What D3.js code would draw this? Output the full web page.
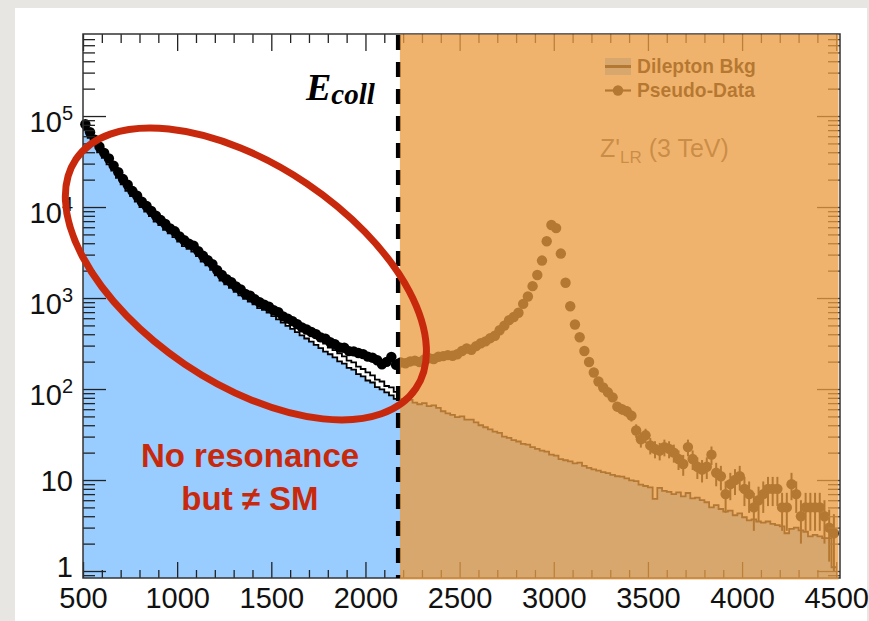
<!DOCTYPE html>
<html>
<head>
<meta charset="utf-8">
<script src="https://cdn.jsdelivr.net/npm/d3@7"></script>
<style>
  html, body { margin: 0; padding: 0; background: #e8e6e3; }
  svg { display: block; }
</style>
</head>
<body>
<svg id="chart" width="869" height="621"></svg>
<script>
// ---- Binning (GeV) ----
const binWidth = 25;
const massMin = 500;
const eCollCut = 2175;            // collider energy reach
const modelStart = 1500;          // start of the model line below the cut

// ---- Pseudo-data, events per 25 GeV bin ----
const dataLeft = [
  81240, 66350, 54870, 46020, 39410, 34150, 28520, 24180, 20290, 17560,
  14980, 13310, 11420, 10260, 9050, 8010, 7190, 6520, 5830, 5410,
  4760, 4310, 3950, 3760, 3280, 2910, 2610, 2360, 2020, 1790,
  1610, 1490, 1340, 1240, 1110, 1060, 968, 899, 846, 801,
  736, 697, 628, 594, 558, 517, 476, 451, 423, 401,
  369, 358, 328, 311, 286, 284, 261, 259, 249, 242,
  227, 221, 207, 187, 199, 225, 184
];
const dataRight = [
  196, 192, 201, 205, 198, 211, 218, 214, 226, 230,
  236, 232, 241, 262, 279, 270, 296, 318, 334, 362,
  385, 442, 497, 571, 618, 689, 862, 1040, 1350, 1790,
  2580, 4210, 6350, 5870, 3080, 1470, 812, 512, 371, 262,
  198, 152, 121, 104, 92, 81, 64, 60, 57, 51,
  35, 28, 31, 24, 22, 21, 23, 22, 20, 17,
  15, 23, 17, 14, 13, 14, 19, 12, 11, 7,
  9, 10, 11, 8, 7, 5, 6, 7, 8, 8,
  8, 5, 5, 9, 7, 4, 5, 5, 5, 5,
  4, 3, 2.6
];

// ---- Dilepton background, events per 25 GeV bin ----
const bkgLeft = [
  70800, 57500, 47900, 39800, 34700, 29500, 25100, 20900, 17800, 15100,
  13200, 11500, 10000, 8910, 7940, 6920, 6310, 5620, 5130, 4680,
  4170, 3720, 3470, 3240, 2880, 2510, 2290, 2040, 1780, 1550,
  1410, 1290, 1170, 1070, 977, 912, 851, 776, 741, 692,
  631, 582, 537, 495, 457, 422, 389, 359, 331, 305,
  282, 258, 241, 223, 201, 190, 171, 163, 146, 138,
  124, 118, 105, 99, 92, 85, 78
];
const bkgRight = [
  78, 74, 76, 71, 68, 70, 65, 66, 62, 57,
  54, 52, 49, 50, 46, 46, 43, 40, 38, 36,
  34, 33, 30, 29, 27.5, 26.5, 25, 24.5, 23, 22,
  21, 20.5, 19, 18.5, 17, 16.5, 16, 15.2, 15.5, 14.3,
  13.6, 13.1, 12.7, 12.2, 11.9, 11.4, 11.0, 10.9, 10.4, 9.9,
  9.7, 8.9, 8.6, 8.3, 6.2, 8.2, 7.6, 7.4, 7.0, 7.3,
  6.6, 7.2, 6.3, 6.4, 6.0, 5.7, 5.0, 5.3, 4.8, 4.5,
  4.6, 4.1, 4.3, 3.9, 3.6, 3.7, 3.5, 3.4, 3.5, 3.3,
  3.2, 3.1, 2.6, 2.9, 3.0, 2.8, 2.7, 2.4, 2.5, 2.4,
  2.3, 2.3, 1.1
];

// ---- Model expectation below the cut (1500-2175 GeV) ----
const modelLeft = [
  757, 705, 640, 598, 545, 510, 462, 433, 395, 370,
  336, 315, 286, 268, 247, 228, 205, 196, 176, 166,
  152, 141, 127, 121, 108, 104, 93
];

// ---- Axis ticks ----
const xTickValues = [500, 1000, 1500, 2000, 2500, 3000, 3500, 4000, 4500];
const xTickLabels = ["500", "1000", "1500", "2000", "2500", "3000", "3500", "4000", "4500"];
const yTickValues = [1, 10, 100, 1000, 10000, 100000];
const yTickLabels = [["1", ""], ["10", ""], ["10", "2"], ["10", "3"], ["10", "4"], ["10", "5"]];

// ---- Text ----
const legendItems = ["Dilepton Bkg", "Pseudo-Data"];
const signalLabel = ["Z'", "LR", " (3 TeV)"];
const noteLines = ["No resonance", "but \u2260 SM"];

// ---------------------------------------------------------------
const svg = d3.select("#chart");
const plot = { left: 83, right: 840, top: 34, bottom: 578 };

const x = d3.scaleLinear().domain([500, 4520]).range([plot.left, plot.right]);
const y = d3.scaleLog().domain([0.838, 7.97e5]).range([plot.bottom, plot.top]);

const sans = "'Liberation Sans', Arial, Helvetica, sans-serif";
const serif = "'Liberation Serif', 'Times New Roman', serif";
const red = "#c8290c";
const markerR = 5.2;

// card
svg.append("rect").attr("x", 15).attr("y", 8).attr("width", 852).attr("height", 640).attr("fill", "#ffffff");

// assemble histograms
const data = dataLeft.concat(dataRight).map((v, i) => ({ m: massMin + (i + 0.5) * binWidth, v }));
const bkg = bkgLeft.concat(bkgRight).map((v, i) => ({ lo: massMin + i * binWidth, v }));
const model = modelLeft.map((v, i) => ({ lo: modelStart + i * binWidth, v }));

function stepPoints(bins) {
  const pts = bins.map(b => [b.lo, b.v]);
  const last = bins[bins.length - 1];
  pts.push([last.lo + binWidth, last.v]);
  return pts;
}

// background histogram: filled
const bkgPts = stepPoints(bkg);
const area = d3.area()
  .curve(d3.curveStepAfter)
  .x(d => x(d[0]))
  .y0(plot.bottom)
  .y1(d => y(d[1]));
svg.append("path").datum(bkgPts).attr("d", area).attr("fill", "#99ccff");

const stepLine = d3.line().curve(d3.curveStepAfter).x(d => x(d[0])).y(d => y(d[1]));
svg.append("path").datum(bkgPts).attr("d", stepLine)
  .attr("fill", "none").attr("stroke", "#000").attr("stroke-width", 1.8);

// model line below the cut
svg.append("path").datum(stepPoints(model)).attr("d", stepLine)
  .attr("fill", "none").attr("stroke", "#000").attr("stroke-width", 1.8);

// pseudo-data with Poisson error bars
const gData = svg.append("g");
gData.selectAll("line").data(data).enter().append("line")
  .attr("x1", d => x(d.m)).attr("x2", d => x(d.m))
  .attr("y1", d => y(d.v + Math.sqrt(d.v)))
  .attr("y2", d => y(Math.max(d.v - Math.sqrt(d.v), 0.85)))
  .attr("stroke", "#000").attr("stroke-width", 2);
gData.selectAll("circle").data(data).enter().append("circle")
  .attr("cx", d => x(d.m)).attr("cy", d => y(d.v)).attr("r", markerR)
  .attr("fill", "#000");

// ---- axes (ticks point inward on all four sides) ----
const xMinor = d3.range(500, 4501, 100).filter(v => v % 500 !== 0);
const yMinor = [];
for (let e = -1; e <= 5; e++) {
  for (let k = 2; k <= 9; k++) {
    const v = k * Math.pow(10, e);
    if (v >= y.domain()[0] && v <= y.domain()[1]) yMinor.push(v);
  }
}

function styleAxis(g) {
  g.select(".domain").remove();
  g.selectAll(".tick line").attr("stroke", "#222").attr("stroke-width", 1.3);
}

svg.append("g").attr("transform", `translate(0,${plot.bottom})`)
  .call(d3.axisBottom(x).tickValues(xTickValues).tickSize(-16).tickPadding(9)
    .tickFormat((d, i) => xTickLabels[i]))
  .call(styleAxis)
  .call(g => g.selectAll("text").attr("font-family", sans).attr("font-size", 29).attr("fill", "#111"));
svg.append("g").attr("transform", `translate(0,${plot.bottom})`)
  .call(d3.axisBottom(x).tickValues(xMinor).tickSize(-8).tickFormat(""))
  .call(styleAxis);
svg.append("g").attr("transform", `translate(0,${plot.top})`)
  .call(d3.axisTop(x).tickValues(xTickValues).tickSize(-17).tickFormat(""))
  .call(styleAxis);
svg.append("g").attr("transform", `translate(0,${plot.top})`)
  .call(d3.axisTop(x).tickValues(xMinor).tickSize(-9).tickFormat(""))
  .call(styleAxis);

svg.append("g").attr("transform", `translate(${plot.left},0)`)
  .call(d3.axisLeft(y).tickValues(yTickValues).tickSize(-23).tickFormat(""))
  .call(styleAxis);
svg.append("g").attr("transform", `translate(${plot.left},0)`)
  .call(d3.axisLeft(y).tickValues(yMinor).tickSize(-12).tickFormat(""))
  .call(styleAxis);
svg.append("g").attr("transform", `translate(${plot.right},0)`)
  .call(d3.axisRight(y).tickValues(yTickValues).tickSize(-23).tickFormat(""))
  .call(styleAxis);
svg.append("g").attr("transform", `translate(${plot.right},0)`)
  .call(d3.axisRight(y).tickValues(yMinor).tickSize(-12).tickFormat(""))
  .call(styleAxis);

// frame
svg.append("rect")
  .attr("x", plot.left).attr("y", plot.top)
  .attr("width", plot.right - plot.left).attr("height", plot.bottom - plot.top)
  .attr("fill", "none").attr("stroke", "#333").attr("stroke-width", 1.5);

// y tick labels with exponents
const yLab = svg.append("g").attr("font-family", sans).attr("fill", "#111");
yTickValues.forEach((v, i) => {
  const [base, exp] = yTickLabels[i];
  const t = yLab.append("text").attr("text-anchor", "end").attr("x", 73)
    .attr("y", Math.min(y(v) + (exp ? 15.5 : 10.5), plot.bottom - 1)).attr("font-size", 29);
  t.append("tspan").text(base);
  if (exp) t.append("tspan").attr("font-size", 20).attr("dy", -12).text(exp);
});

// legend
const lg = svg.append("g").attr("font-family", sans).attr("font-weight", "bold").attr("font-size", 19.3);
lg.append("rect").attr("x", 605).attr("y", 58).attr("width", 26).attr("height", 17).attr("fill", "#99ccff");
lg.append("line").attr("x1", 605).attr("x2", 631).attr("y1", 66.5).attr("y2", 66.5)
  .attr("stroke", "#000").attr("stroke-width", 3);
lg.append("text").attr("x", 637).attr("y", 73).attr("fill", "#000").text(legendItems[0]);
lg.append("line").attr("x1", 605).attr("x2", 631).attr("y1", 90.5).attr("y2", 90.5)
  .attr("stroke", "#000").attr("stroke-width", 2.2);
lg.append("circle").attr("cx", 618).attr("cy", 90.5).attr("r", markerR).attr("fill", "#000");
lg.append("text").attr("x", 637).attr("y", 97).attr("fill", "#000").text(legendItems[1]);

// signal label
const zt = svg.append("text").attr("x", 600).attr("y", 157)
  .attr("font-family", sans).attr("font-size", 25).attr("fill", "#5c5c5c");
zt.append("tspan").text(signalLabel[0]);
zt.append("tspan").attr("font-size", 17).attr("dy", 6).text(signalLabel[1]);
zt.append("tspan").attr("dy", -6).text(signalLabel[2]);

// collider reach marker
const xc = x(eCollCut);
svg.append("line").attr("x1", xc).attr("x2", xc).attr("y1", plot.top + 1).attr("y2", plot.bottom)
  .attr("stroke", "#000").attr("stroke-width", 5).attr("stroke-dasharray", "15,12");

// region beyond the reach, shaded
svg.append("rect")
  .attr("x", xc + 1.5).attr("y", plot.top + 0.5)
  .attr("width", plot.right - 1.5 - (xc + 1.5)).attr("height", plot.bottom - plot.top + 1)
  .attr("fill", "rgb(235,156,65)").attr("opacity", 0.77);

// E_coll label
const et = svg.append("text").attr("x", 306).attr("y", 100)
  .attr("font-family", serif).attr("font-weight", "bold").attr("font-style", "italic")
  .attr("fill", "#000").attr("font-size", 38);
et.append("tspan").text("E");
et.append("tspan").attr("font-size", 29).attr("dy", 4).text("coll");

// note
const nt = svg.append("g").attr("font-family", sans).attr("font-weight", "bold")
  .attr("font-size", 33).attr("fill", red).attr("text-anchor", "middle");
nt.append("text").attr("x", 250).attr("y", 467).text(noteLines[0]);
nt.append("text").attr("x", 250).attr("y", 510).text(noteLines[1]);

// highlight ellipse around the non-resonant excess
const ecx = x(1365), ecy = y(1840);
svg.append("ellipse")
  .attr("cx", ecx).attr("cy", ecy).attr("rx", 205).attr("ry", 109)
  .attr("transform", `rotate(34,${ecx},${ecy})`)
  .attr("fill", "none").attr("stroke", red).attr("stroke-width", 7);
</script>
</body>
</html>
